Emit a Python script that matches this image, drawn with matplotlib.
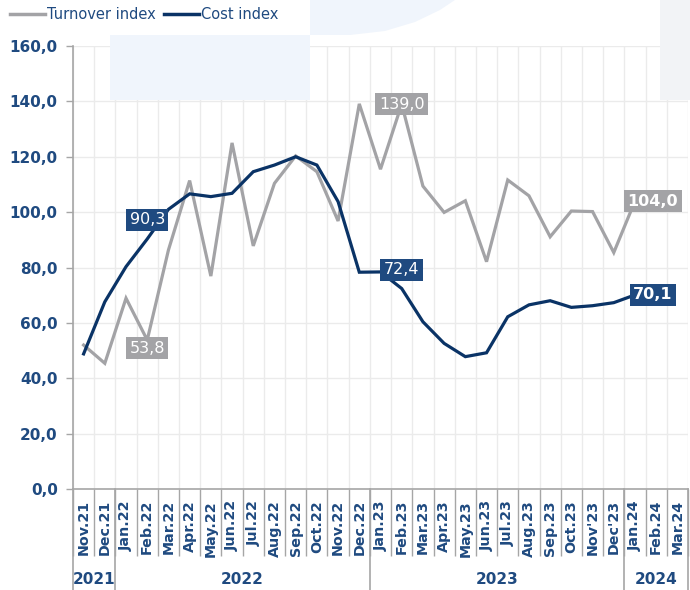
import numpy as np
import matplotlib
matplotlib.use("Agg")
import matplotlib.pyplot as plt
from matplotlib.patches import Polygon, Rectangle
from matplotlib.lines import Line2D

months = ["Nov.21", "Dec.21", "Jan.22", "Feb.22", "Mar.22", "Apr.22", "May.22", "Jun.22",
          "Jul.22", "Aug.22", "Sep.22", "Oct.22", "Nov.22", "Dec.22", "Jan.23", "Feb.23",
          "Mar.23", "Apr.23", "May.23", "Jun.23", "Jul.23", "Aug.23", "Sep.23", "Oct.23",
          "Nov'23", "Dec'23", "Jan.24", "Feb.24", "Mar.24"]
years = ["2021", "2022", "2023", "2024"]
year_counts = [2, 12, 12, 3]

turnover = [52.0, 45.4, 68.9, 53.8, 86.3, 111.4, 76.9, 125.0, 87.8, 110.4, 120.3, 114.6,
            96.8, 139.1, 115.5, 139.0, 109.4, 99.9, 104.1, 82.1, 111.6, 105.9, 91.1, 100.4,
            100.2, 85.4, 104.0, np.nan, np.nan]
cost = [48.8, 67.6, 80.3, 90.3, 101.0, 106.6, 105.6, 106.8, 114.6, 117.0, 120.0, 117.0,
        103.8, 78.3, 78.4, 72.4, 60.4, 52.6, 47.8, 49.2, 62.2, 66.5, 68.0, 65.6,
        66.2, 67.3, 70.1, np.nan, np.nan]

GRAY = "#A3A3A6"
NAVY = "#0A3366"
NAVY_BOX = "#1F4A80"
TXT = "#1F4A80"
AXIS = "#A6A6A6"

W, H = 690, 590
fig = plt.figure(figsize=(W / 100, H / 100), dpi=100)

# faint watermark shapes (background)
def fx(x): return x / W
def fy(y): return 1 - y / H
fig.patches.append(Rectangle((fx(110), fy(100)), fx(310) - fx(110), fy(35) - fy(100),
                             transform=fig.transFigure, facecolor="#F0F5FC", edgecolor="none", zorder=0))
arc = [(310, 0), (310, 35), (350, 35), (385, 31), (415, 22), (440, 10), (455, 0)]
fig.patches.append(Polygon([(fx(a), fy(b)) for a, b in arc], closed=True,
                           transform=fig.transFigure, facecolor="#F0F5FC", edgecolor="none", zorder=0))
fig.patches.append(Rectangle((fx(660), fy(100)), fx(690) - fx(660), fy(0) - fy(100),
                             transform=fig.transFigure, facecolor="#F2F3F6", edgecolor="none", zorder=0))

left, right, top, bottom = 73, 688, 46, 489
ax = fig.add_axes([fx(left), fy(bottom), fx(right) - fx(left), fy(top) - fy(bottom)])
ax.set_facecolor("none")

n = len(months)
x = np.arange(n)
ax.plot(x, turnover, color=GRAY, lw=2.3, solid_joinstyle="miter", zorder=3)
ax.plot(x, cost, color=NAVY, lw=2.3, solid_joinstyle="miter", zorder=4)

ax.set_xlim(-0.5, n - 0.5)
ax.set_ylim(0, 160)
ax.set_yticks(np.arange(0, 161, 20))
ax.set_yticklabels([f"{v:.1f}".replace(".", ",") for v in np.arange(0, 161, 20)],
                   fontsize=11, fontweight="bold", color=TXT)
ax.tick_params(axis="y", length=5, color=AXIS, width=1, pad=6)

ax.set_xticks(x)
ax.set_xticklabels(months, rotation=90, fontsize=10.3, fontweight="bold", color=TXT, va="top")
ax.tick_params(axis="x", which="major", length=0, pad=8)
ax.set_xticks(np.arange(-0.5, n, 1), minor=True)
ax.tick_params(axis="x", which="minor", length=48, color=AXIS, width=1)

ax.grid(axis="y", color="#EBEBEB", lw=1, zorder=0)
ax.grid(axis="x", which="minor", color="#EBEBEB", lw=1, zorder=0)
ax.set_axisbelow(True)

for s in ["top", "right"]:
    ax.spines[s].set_visible(False)
for s in ["left", "bottom"]:
    ax.spines[s].set_color(AXIS)
    ax.spines[s].set_linewidth(1.2)

# year group separators and labels
xt = ax.get_xaxis_transform()
depth = (H - bottom) / (bottom - top)
start = -0.5
bounds = [start]
for c in year_counts:
    bounds.append(bounds[-1] + c)
for b in bounds:
    ax.plot([b, b], [0, -depth - 0.01], transform=xt, color=AXIS, lw=1.2, clip_on=False)
for i, yl in enumerate(years):
    ax.text((bounds[i] + bounds[i + 1]) / 2, -(580 - bottom) / (bottom - top), yl,
            transform=xt, ha="center", va="center", fontsize=11, fontweight="bold", color=TXT)

# data labels
def lab(i, v, txt, color, dx=0, dy=0, bold=False):
    ax.annotate(txt, (i, v), xytext=(dx, dy), textcoords="offset pixels",
                ha="center", va="center", fontsize=11.5, color="white",
                fontweight="bold" if bold else "normal",
                bbox=dict(boxstyle="square,pad=0.22", facecolor=color, edgecolor="none"), zorder=6)

lab(3, cost[3], "90,3", NAVY_BOX, dy=19)
lab(3, turnover[3], "53,8", GRAY, dy=-8)
lab(15, turnover[15], "139,0", GRAY)
lab(15, cost[15], "72,4", NAVY_BOX, dy=19)
lab(26, turnover[26], "104,0", GRAY, dx=18, bold=True)
lab(26, cost[26], "70,1", NAVY_BOX, dx=18, bold=True)

handles = [Line2D([], [], color=GRAY, lw=2.5), Line2D([], [], color=NAVY, lw=2.5)]
leg = fig.legend(handles, ["Turnover index", "Cost index"], loc="upper left",
                 bbox_to_anchor=(0.0, 1.005), ncol=2, frameon=False, fontsize=10.5,
                 handlelength=2.4, handletextpad=0.1, columnspacing=0.6, borderaxespad=0.3)
for t in leg.get_texts():
    t.set_color(TXT)

fig.savefig("out.png", dpi=100)
